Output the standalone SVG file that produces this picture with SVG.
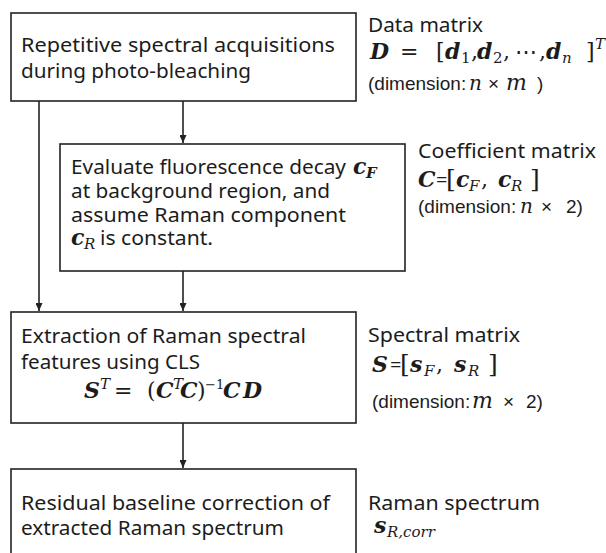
<svg xmlns="http://www.w3.org/2000/svg" width="606" height="553" viewBox="0 0 606 553">
<style>
.box{fill:#fff;stroke:#222;stroke-width:1.6}
.ln{fill:none;stroke:#222;stroke-width:1.6}
.t{font-family:"Noto Sans","Liberation Sans",sans-serif;font-size:20px;fill:#1c1c1c}
.dm{font-family:"Liberation Sans","Noto Sans",sans-serif;font-size:19px;fill:#1c1c1c}
.m{font-family:"DejaVu Serif","Liberation Serif",serif;font-size:22px;fill:#1c1c1c}
.bi{font-weight:bold;font-style:italic}
.i{font-style:italic}
.s{font-size:15px}
.mi{font-family:"DejaVu Serif","Liberation Serif",serif;font-style:italic;font-size:20px}
</style>
<defs>
<marker id="ah" markerUnits="userSpaceOnUse" markerWidth="7" markerHeight="8" refX="3.5" refY="8" orient="0">
<path d="M0,0 L7,0 L3.5,8 z" fill="#222"/>
</marker>
</defs>
<rect width="606" height="553" fill="#fff"/>
<g id="connectors">
<line class="ln" x1="183" y1="101" x2="183" y2="143" marker-end="url(#ah)"/>
<line class="ln" x1="39" y1="101" x2="39" y2="311" marker-end="url(#ah)"/>
<line class="ln" x1="183" y1="271" x2="183" y2="311" marker-end="url(#ah)"/>
<line class="ln" x1="183" y1="423" x2="183" y2="468" marker-end="url(#ah)"/>
</g>
<g id="node1">
<rect class="box" x="11" y="13" width="345" height="88"/>
<text class="t" x="21" y="52" textLength="314" lengthAdjust="spacingAndGlyphs">Repetitive spectral acquisitions</text>
<text class="t" x="21" y="78" textLength="230" lengthAdjust="spacingAndGlyphs">during photo-bleaching</text>
</g>
<g id="label1">
<text class="t" x="368" y="32" textLength="115" lengthAdjust="spacingAndGlyphs">Data matrix</text>
<text class="m" y="59"><tspan class="bi" x="370">D</tspan><tspan x="400">=</tspan><tspan x="436">[</tspan><tspan class="bi" x="445">d</tspan><tspan class="s" x="461" dy="4">1</tspan><tspan x="471" dy="-4">,</tspan><tspan class="bi" x="477">d</tspan><tspan class="s" x="493" dy="4">2</tspan><tspan x="503" dy="-4">,</tspan><tspan x="515">⋯</tspan><tspan x="539">,</tspan><tspan class="bi" x="546">d</tspan><tspan class="s i" x="562" dy="4">n</tspan><tspan x="586" dy="-4">]</tspan><tspan class="s i" x="595" dy="-10">T</tspan></text>
<text class="dm" y="90"><tspan x="368">(dimension:</tspan><tspan class="mi" x="469">n</tspan><tspan x="488">×</tspan><tspan class="mi" x="506" style="font-size:22px">m</tspan><tspan x="537">)</tspan></text>
</g>
<g id="node2">
<rect class="box" x="60" y="144" width="345" height="127"/>
<text class="t" x="71" y="174" textLength="275" lengthAdjust="spacingAndGlyphs">Evaluate fluorescence decay</text>
<text class="m" y="174"><tspan class="bi" x="353">c</tspan><tspan class="s bi" x="366" dy="4">F</tspan></text>
<text class="t" x="71" y="198" textLength="259" lengthAdjust="spacingAndGlyphs">at background region, and</text>
<text class="t" x="71" y="222" textLength="275" lengthAdjust="spacingAndGlyphs">assume Raman component</text>
<text class="t" y="245"><tspan class="m bi" x="71">c</tspan><tspan class="m s i" x="84" dy="4">R</tspan><tspan x="100" dy="-4" textLength="113" lengthAdjust="spacingAndGlyphs">is constant.</tspan></text>
</g>
<g id="label2">
<text class="t" x="418" y="158" textLength="178" lengthAdjust="spacingAndGlyphs">Coefficient matrix</text>
<text class="m" y="187"><tspan class="bi" x="418">C</tspan><tspan class="t" x="436">=</tspan><tspan x="446" style="font-size:25px">[</tspan><tspan class="bi" x="456">c</tspan><tspan class="s i" x="469" dy="4">F</tspan><tspan x="481" dy="-4">,</tspan><tspan class="bi" x="498">c</tspan><tspan class="s i" x="511" dy="4">R</tspan><tspan x="530" dy="-4" style="font-size:25px">]</tspan></text>
<text class="dm" y="213"><tspan x="418">(dimension:</tspan><tspan class="mi" x="520">n</tspan><tspan x="541">×</tspan><tspan x="566">2)</tspan></text>
</g>
<g id="node3">
<rect class="box" x="11" y="312" width="345" height="111"/>
<text class="t" x="21" y="343" textLength="285" lengthAdjust="spacingAndGlyphs">Extraction of Raman spectral</text>
<text class="t" x="21" y="369" textLength="179" lengthAdjust="spacingAndGlyphs">features using CLS</text>
<text class="m" y="398"><tspan class="bi" x="84">S</tspan><tspan class="s i" x="100" dy="-9">T</tspan><tspan x="114" dy="9">=</tspan><tspan x="147">(</tspan><tspan class="bi" x="156">C</tspan><tspan class="s i" x="173" dy="-9">T</tspan><tspan class="bi" x="180" dy="9">C</tspan><tspan x="197">)</tspan><tspan style="font-size:13px" x="205" dy="-9">−1</tspan><tspan class="bi" x="223" dy="9">C</tspan><tspan class="bi" x="243">D</tspan></text>
</g>
<g id="label3">
<text class="t" x="368" y="342" textLength="152" lengthAdjust="spacingAndGlyphs">Spectral matrix</text>
<text class="m" y="372"><tspan class="bi" x="372">S</tspan><tspan class="t" x="390">=</tspan><tspan x="400" style="font-size:25px">[</tspan><tspan class="bi" x="410">s</tspan><tspan class="s i" x="424" dy="4">F</tspan><tspan x="436" dy="-4">,</tspan><tspan class="bi" x="454">s</tspan><tspan class="s i" x="468" dy="4">R</tspan><tspan x="488" dy="-4" style="font-size:25px">]</tspan></text>
<text class="dm" y="408"><tspan x="372">(dimension:</tspan><tspan class="mi" x="472" style="font-size:22px">m</tspan><tspan x="503">×</tspan><tspan x="526">2)</tspan></text>
</g>
<g id="node4">
<rect class="box" x="11" y="469" width="345" height="100"/>
<text class="t" x="21" y="510" textLength="309" lengthAdjust="spacingAndGlyphs">Residual baseline correction of</text>
<text class="t" x="21" y="535" textLength="263" lengthAdjust="spacingAndGlyphs">extracted Raman spectrum</text>
</g>
<g id="label4">
<text class="t" x="368" y="510" textLength="172" lengthAdjust="spacingAndGlyphs">Raman spectrum</text>
<text class="m" y="533"><tspan class="bi" x="374">s</tspan><tspan class="s i" x="387" dy="4">R,corr</tspan></text>
</g>
</svg>
